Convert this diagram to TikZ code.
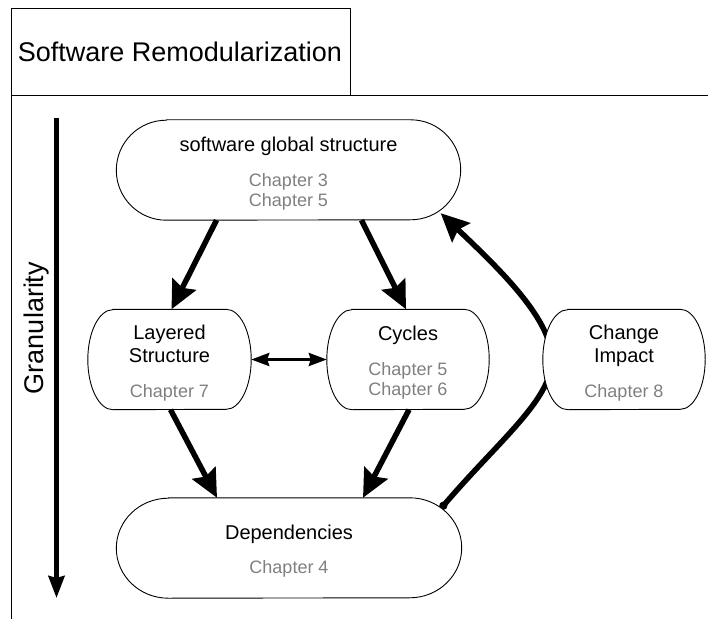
\documentclass[tikz,border=0pt]{standalone}
\usepackage{fontspec}
\setmainfont{Liberation Sans}
\usetikzlibrary{arrows.meta}
\pgfdeclarelayer{back}
\pgfdeclarelayer{frames}
\pgfsetlayers{back,frames,main}
\definecolor{chapgray}{gray}{0.5}
\newcommand\boxstrut{\rule{0pt}{21pt}}
\newcommand\chapref[1]{{\color{chapgray}\fontsize{18}{20}\selectfont Chapter #1}}
\newcommand\chapframe[2]{% outline with elliptic ends, #2 = width of the ends
  \begin{pgfonlayer}{frames}
    \filldraw[fill=white, line width=0.9pt] ([xshift=#2]#1.north west) -- ([xshift=-#2]#1.north east)
      arc[start angle=90, end angle=-90, x radius=#2, y radius=50pt]
      -- ([xshift=#2]#1.south west)
      arc[start angle=270, end angle=90, x radius=#2, y radius=50pt] -- cycle;
  \end{pgfonlayer}}
\begin{document}
\begin{tikzpicture}[x=1pt, y=1pt,
    chap/.style={minimum height=100pt, inner sep=0pt, align=center, font=\fontsize{20}{23}\selectfont},
    flow/.style={line width=5.5pt, -{Stealth[length=28pt, width=26pt, inset=4pt]}},
  ]
  \useasboundingbox (0,0) rectangle (708,619);
  \draw[line width=0.9pt] (11,0) -- (11,611) -- (350,611) -- (350,524);% title box
  \draw[line width=0.9pt] (11,524) -- (708,524);
  \node (title) at (180,567) {\fontsize{27}{30}\selectfont Software Remodularization};
  % granularity axis
  \coordinate (granTop) at (56.5,501);
  \coordinate (granEnd) at (56.5,21);
  \draw[line width=4.5pt, -{Stealth[length=22pt, width=16pt, inset=2pt]}] (granTop) -- (granEnd);
  \node[rotate=90] (granLabel) at (37,291) {\fontsize{27}{30}\selectfont Granularity};
  % chapter boxes
  \node[chap, minimum width=344pt] (global) at (288.5,449)
    {\boxstrut software global structure\\[12pt]\chapref{3}\\[-3pt]\chapref{5}};
  \node[chap, minimum width=163pt] (lay) at (169.5,259.5)
    {\boxstrut Layered\\Structure\\[12pt]\chapref{7}};
  \node[chap, minimum width=162pt] (cyc) at (408,259.5)
    {\boxstrut Cycles\\[12pt]\chapref{5}\\[-3pt]\chapref{6}};
  \node[chap, minimum width=162pt] (chg) at (624,259.5)
    {\boxstrut Change\\Impact\\[12pt]\chapref{8}};
  \node[chap, minimum width=345pt] (dep) at (289,71)
    {\boxstrut Dependencies\\[11pt]\chapref{4}};
  \foreach \n/\r in {global/50pt, lay/25pt, cyc/25pt, chg/25pt, dep/52pt}
    {\chapframe{\n}{\r}}
  % connectors
  \draw[flow] ([xshift=-72pt]global.south) -- ([xshift=2pt]lay.north);
  \draw[flow] ([xshift=73pt]global.south) -- ([xshift=-2pt]cyc.north);
  \draw[flow] ([xshift=1pt]lay.south) -- ([xshift=-72pt]dep.north);
  \draw[flow] ([xshift=1pt]cyc.south) -- ([xshift=74pt]dep.north);
  \draw[line width=3.2pt, {Stealth[length=18pt, width=13pt, inset=2pt]}-{Stealth[length=18pt, width=13pt, inset=2pt]}]
    (lay.east) -- (cyc.west);
  \begin{pgfonlayer}{back}
    \draw[flow, {Circle[length=8pt]}-{Stealth[length=28pt, width=26pt, inset=4pt]}]
      ([xshift=-21pt,yshift=-11pt]dep.north east) .. controls +(59,69) and +(0,-40) .. ([xshift=9pt]chg.west)
      .. controls +(0,40) and +(60,-57) .. ([xshift=-20pt,yshift=7pt]global.south east);
  \end{pgfonlayer}
\end{tikzpicture}
\end{document}
